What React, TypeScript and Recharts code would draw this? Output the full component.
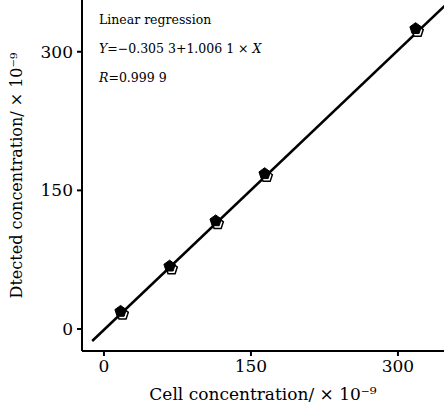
import { Scatter, ScatterChart, XAxis, YAxis } from "recharts";

// cell concentration (x10^-9) and detected concentration (x10^-9)
const cellConc = [17, 67, 114, 164, 318];
const detectedA = [19, 68, 117, 168, 325];
const cellConcB = [19, 69, 116, 166, 320];
const detectedB = [16, 65, 114, 165, 322];
const fitX = [-12, 352];
const fitY = [-13, 354];
const xTicks = [0, 150, 300];
const yTicks = [0, 150, 300];

const seriesA = cellConc.map((x, i) => ({ x, y: detectedA[i] }));
const seriesB = cellConcB.map((x, i) => ({ x, y: detectedB[i] }));
const fitLine = fitX.map((x, i) => ({ x, y: fitY[i] }));

const FONT = "'DejaVu Serif', 'Liberation Serif', serif";

function pentagon(cx: number, cy: number, r: number) {
	const pts: string[] = [];
	for (let k = 0; k < 5; k++) {
		const a = -Math.PI / 2 + (k * 2 * Math.PI) / 5;
		pts.push(`${cx + r * Math.cos(a)},${cy + r * Math.sin(a)}`);
	}
	return pts.join(" ");
}

// eslint-disable-next-line @typescript-eslint/no-explicit-any
const FilledPent = (p: any) => (
	<polygon points={pentagon(p.cx, p.cy, 6)} fill="#000" stroke="#000" strokeWidth={1} />
);
// eslint-disable-next-line @typescript-eslint/no-explicit-any
const OpenPent = (p: any) => (
	<polygon points={pentagon(p.cx, p.cy, 6)} fill="#fff" stroke="#000" strokeWidth={1.5} />
);
const NoDot = () => <g />;

export default function App() {
	return (
		<div style={{ position: "absolute", left: 0, top: 0, width: 444, height: 410, background: "#fff" }}>
			<ScatterChart width={444} height={410} margin={{ top: 0, right: 0, bottom: 0, left: 0 }}>
				<XAxis
					type="number"
					dataKey="x"
					domain={[-22.4, 347]}
					ticks={xTicks}
					allowDataOverflow
					height={59}
					tickSize={5}
					stroke="#000"
					strokeWidth={2}
					tick={{ fill: "#000", fontSize: 17, fontFamily: FONT }}
					tickMargin={4}
					label={{
						value: "Cell concentration/ × 10⁻⁹",
						position: "insideBottom",
						offset: 10,
						fill: "#000",
						fontSize: 17,
						fontFamily: FONT,
					}}
				/>
				<YAxis
					type="number"
					dataKey="y"
					domain={[-23.8, 356]}
					ticks={yTicks}
					allowDataOverflow
					width={82}
					tickSize={5}
					stroke="#000"
					strokeWidth={2}
					tick={{ fill: "#000", fontSize: 17, fontFamily: FONT }}
					tickMargin={4}
					label={{
						value: "Dtected concentration/ × 10⁻⁹",
						angle: -90,
						position: "insideLeft",
						offset: 16,
						style: { textAnchor: "middle" },
						fill: "#000",
						fontSize: 16,
						fontFamily: FONT,
					}}
				/>
				<Scatter data={fitLine} line={{ stroke: "#000", strokeWidth: 2.5 }} shape={NoDot} isAnimationActive={false} />
				<Scatter data={seriesB} shape={OpenPent} isAnimationActive={false} />
				<Scatter data={seriesA} shape={FilledPent} isAnimationActive={false} />
			</ScatterChart>
			<div
				style={{
					position: "absolute",
					left: 99,
					top: 5,
					fontFamily: FONT,
					fontSize: 12.5,
					color: "#000",
					lineHeight: "29px",
				}}
			>
				<div>Linear regression</div>
				<div>
					<i>Y</i>=−0.305 3+1.006 1 × <i>X</i>
				</div>
				<div>
					<i>R</i>=0.999 9
				</div>
			</div>
		</div>
	);
}
